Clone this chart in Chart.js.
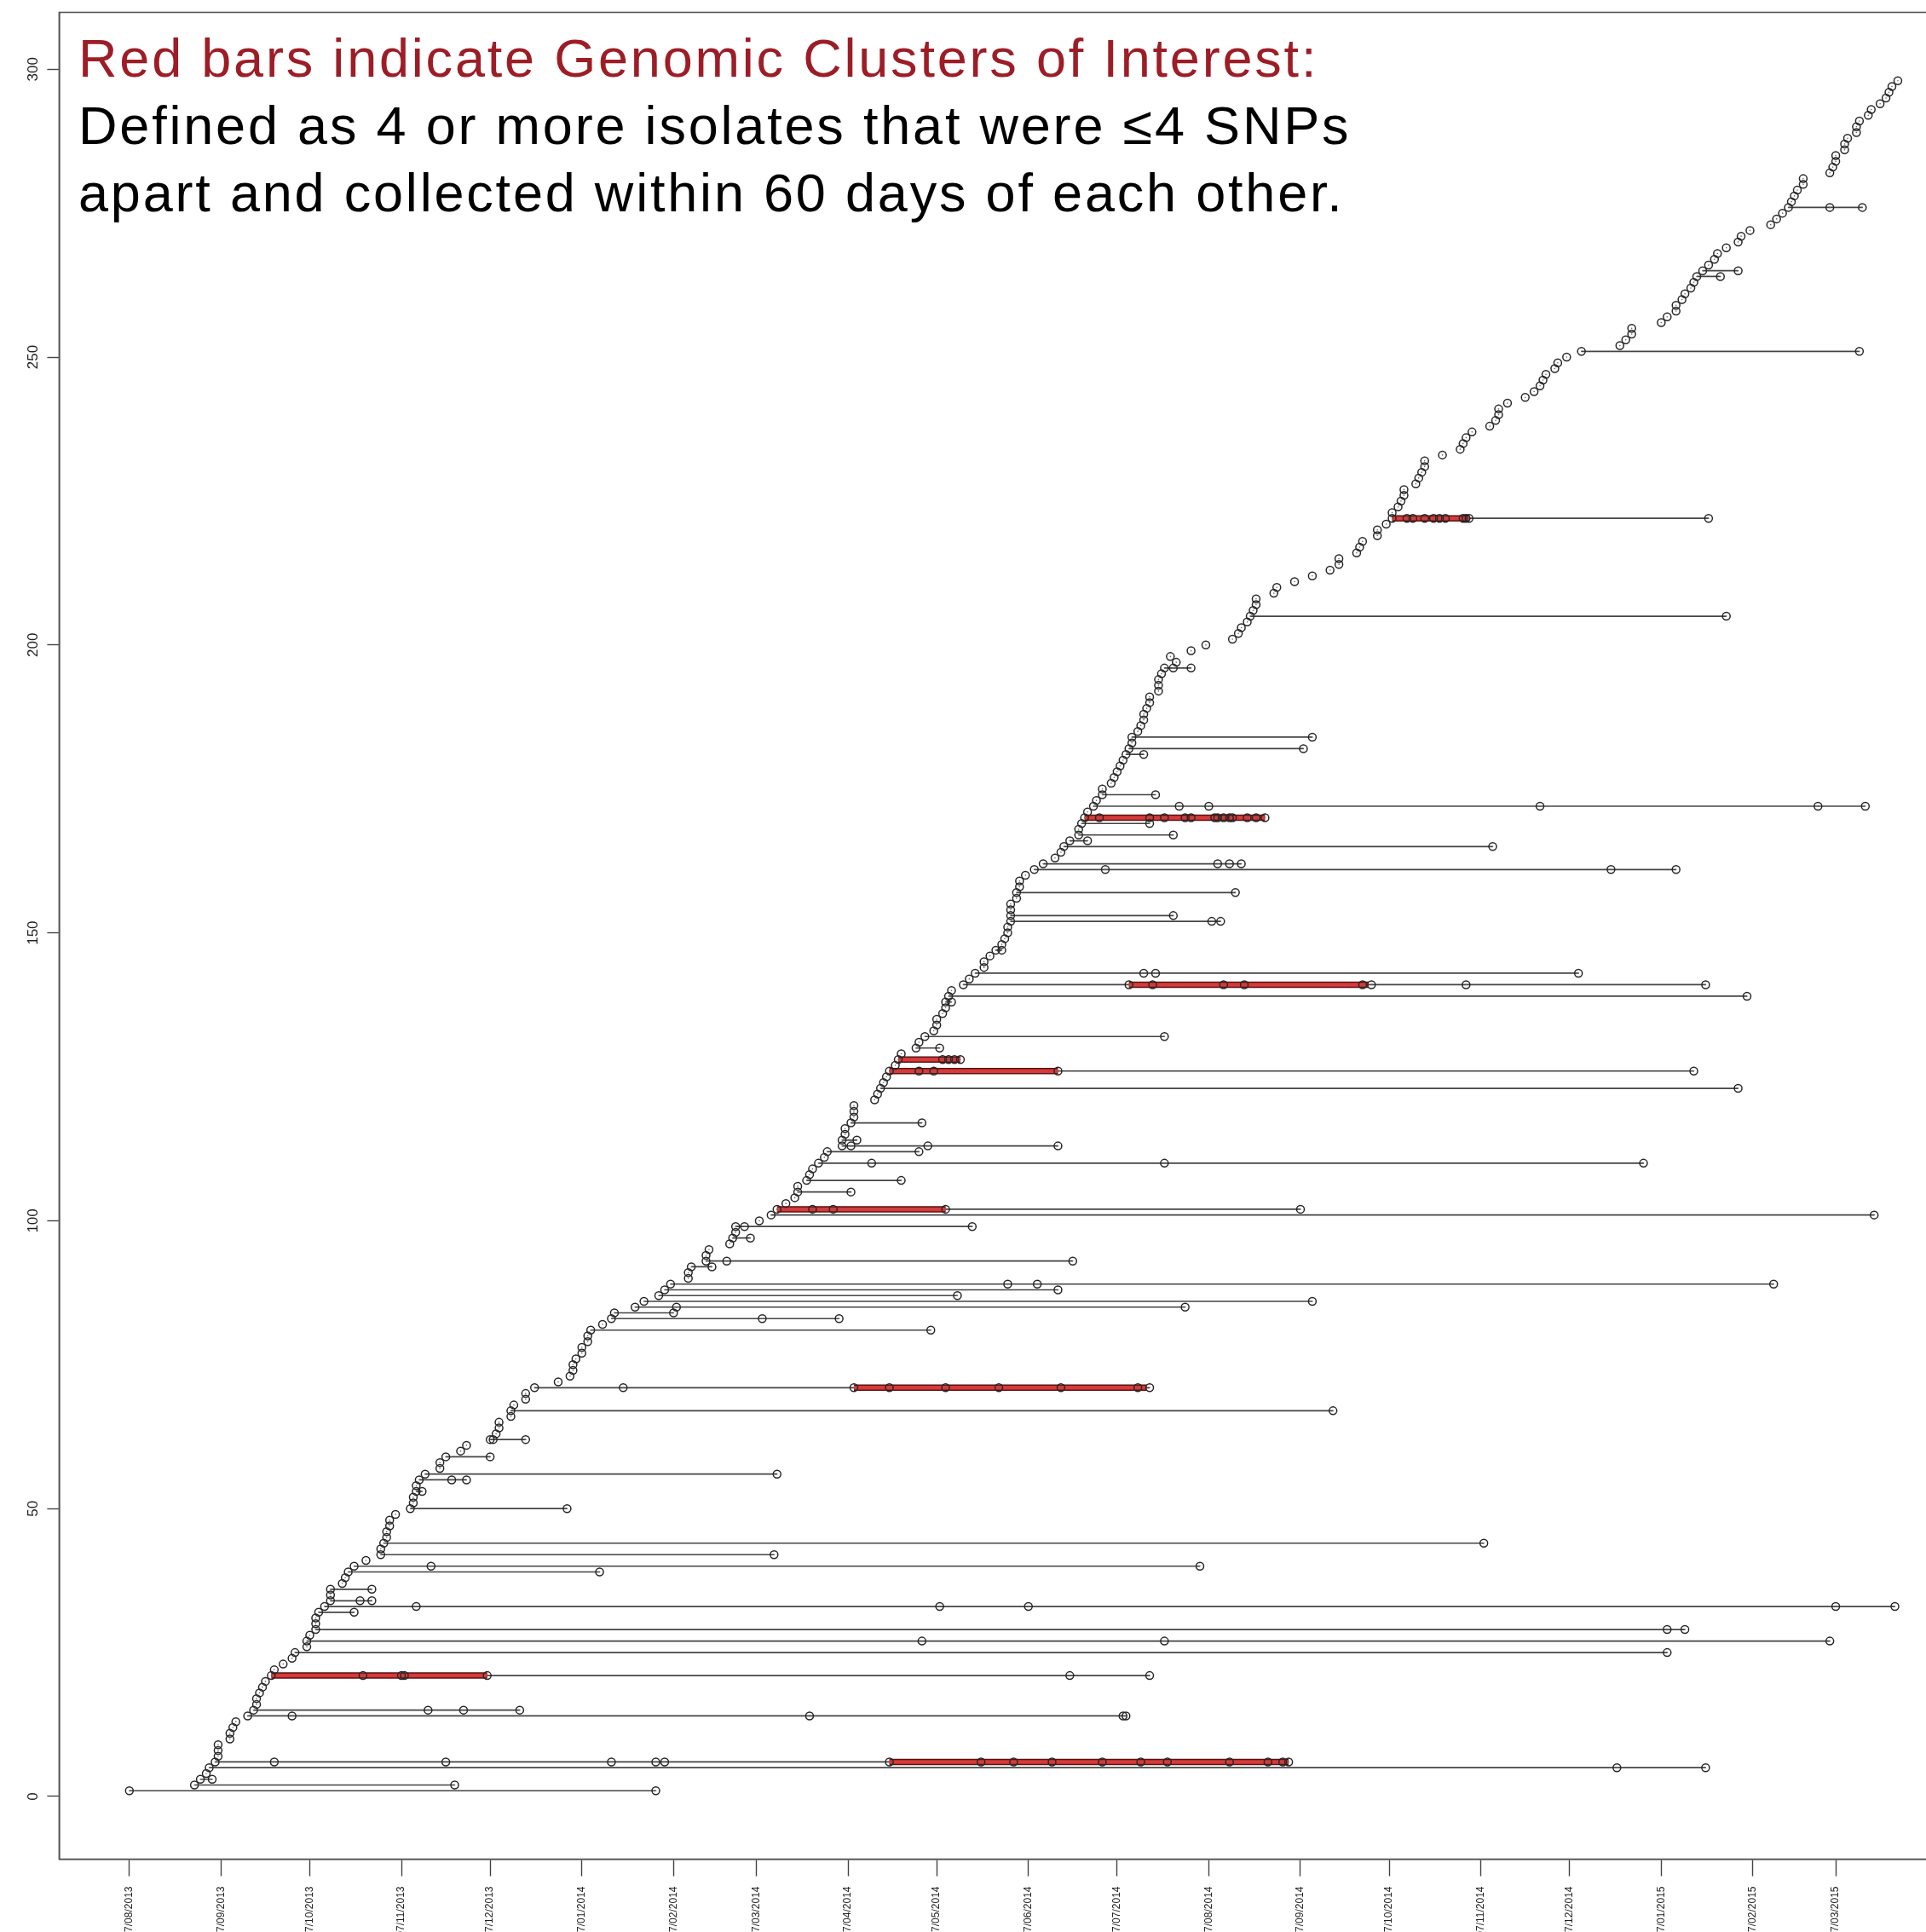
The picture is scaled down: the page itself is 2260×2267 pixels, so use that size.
<!DOCTYPE html>
<html>
<head>
<meta charset="utf-8">
<script src="https://cdn.jsdelivr.net/npm/chart.js@4.4.1/dist/chart.umd.min.js"></script>
<style>
  html, body { margin: 0; padding: 0; background: #fff; overflow: hidden; }
  #wrap { position: relative; width: 2310px; height: 2300px; }
  #note {
    position: absolute; left: 92px; top: 29px;
    font-family: "Liberation Sans", Arial, sans-serif;
    font-size: 63px; line-height: 79px; letter-spacing: 2.8px;
    color: #000; white-space: nowrap;
  }
  #note .red { color: #9d1d27; }
</style>
</head>
<body>
<div id="wrap">
  <canvas id="chart" width="2310" height="2300"></canvas>
  <div id="note">
    <div class="red">Red bars indicate Genomic Clusters of Interest:</div>
    <div>Defined as 4 or more isolates that were ≤4 SNPs</div>
    <div>apart and collected within 60 days of each other.</div>
  </div>
</div>
<script>
// x values are days after 07/08/2013, y values are row numbers 1..298

const tickDays = [0, 31, 61, 92, 122, 153, 184, 212, 243, 273, 304, 334, 365, 396, 426, 457, 487, 518, 549, 577];
const tickLabels = ['07/08/2013', '07/09/2013', '07/10/2013', '07/11/2013', '07/12/2013',
  '07/01/2014', '07/02/2014', '07/03/2014', '07/04/2014', '07/05/2014', '07/06/2014',
  '07/07/2014', '07/08/2014', '07/09/2014', '07/10/2014', '07/11/2014', '07/12/2014',
  '07/01/2015', '07/02/2015', '07/03/2015'];
const yTicks = [0, 50, 100, 150, 200, 250, 300];

// first isolate of each row (row 1 first)
const firstDay = [
  0, 22, 24, 26, 27, 29, 30, 30, 30, 34, 34, 35, 36, 40, 42, 43, 43, 44, 45, 46,
  48, 49, 52, 55, 56, 60, 60, 61, 63, 63, 63, 64, 66, 68, 68, 68, 72, 73, 74, 76,
  80, 85, 85, 86, 87, 87, 88, 88, 90, 95, 96, 96, 97, 97, 98, 100, 105, 105, 107, 112,
  114, 122, 124, 125, 125, 129, 129, 130, 134, 134, 137, 145, 149, 150, 150, 151, 153, 153, 155, 155,
  156, 160, 163, 164, 171, 174, 179, 181, 183, 189, 189, 190, 195, 195, 196, 203, 204, 205, 205, 213,
  217, 219, 222, 225, 226, 226, 229, 230, 231, 233, 235, 236, 241, 241, 242, 242, 244, 245, 245, 245,
  252, 253, 254, 255, 256, 257, 259, 260, 261, 266, 267, 269, 272, 273, 273, 275, 276, 276, 277, 278,
  282, 284, 286, 289, 289, 291, 293, 295, 296, 297, 297, 298, 298, 298, 298, 300, 300, 301, 301, 303,
  306, 309, 313, 315, 316, 318, 321, 321, 322, 323, 324, 326, 327, 329, 329, 332, 333, 334, 335, 336,
  337, 338, 339, 339, 341, 342, 343, 343, 344, 345, 345, 348, 348, 348, 349, 350, 354, 352, 359, 364,
  373, 375, 376, 378, 379, 380, 381, 381, 387, 388, 394, 400, 406, 409, 409, 415, 416, 417, 422, 422,
  425, 427, 427, 429, 430, 431, 431, 435, 436, 437, 438, 438, 444, 450, 451, 452, 454, 460, 462, 463,
  463, 466, 472, 475, 477, 478, 479, 482, 483, 486, 491, 504, 506, 508, 508, 518, 520, 523, 523, 525,
  526, 528, 529, 530, 532, 534, 536, 537, 540, 544, 545, 548, 555, 557, 559, 561, 562, 563, 564, 566,
  566, 575, 576, 577, 577, 580, 580, 581, 584, 584, 585, 588, 589, 592, 594, 595, 596, 598
];

// rows with later isolates, and the days of those isolates
const laterRows = [1, 2, 3, 5, 6, 14, 15, 21, 25, 27, 29, 32, 33, 34, 36, 39, 40, 42, 44, 50,
  53, 55, 56, 59, 62, 67, 71, 81, 83, 84, 85, 86, 87, 88, 89, 92, 93, 97, 99, 101,
  102, 105, 107, 110, 112, 113, 114, 117, 123, 126, 128, 130, 132, 138, 139, 141, 143, 147, 152, 153,
  157, 161, 162, 165, 166, 167, 169, 170, 172, 174, 181, 182, 184, 196, 205, 222, 251, 264, 265, 276];
const laterDays = [
  [178], [110], [28], [503, 533],
  [49, 107, 163, 178, 181, 257, 288, 299, 312, 329, 342, 351, 372, 385, 390, 392],
  [55, 230, 336, 337], [101, 113, 132], [79, 92, 93, 121, 318, 345], [520], [268, 350, 575],
  [520, 526], [76], [97, 274, 304, 577, 597], [78, 82], [82], [159], [102, 362], [218], [458], [148],
  [99], [109, 114], [219], [122], [123, 134], [407], [167, 245, 257, 276, 294, 315, 341, 345], [271], [214, 240], [184],
  [185, 357], [400], [280], [314], [297, 307, 556], [197], [202, 319], [210], [208, 285], [590],
  [231, 238, 276, 396], [244], [261], [251, 350, 512], [267], [244, 270, 314], [246], [268], [544], [267, 272, 314, 529],
  [275, 277, 279, 281], [274], [350], [278], [547], [338, 346, 370, 377, 417, 420, 452, 533], [343, 347, 490], [295], [366, 369], [353],
  [374], [330, 501, 523], [368, 372, 376], [461], [324], [353], [345],
  [328, 345, 350, 357, 359, 367, 368, 370, 372, 373, 378, 381, 384],
  [355, 365, 477, 571, 587], [347], [343], [397], [400], [353, 359], [540],
  [432, 434, 438, 441, 443, 445, 451, 452, 453, 534], [585], [538], [544], [575, 586]
];

// genomic clusters of interest (red bars)
const clusterRows = [6, 21, 71, 102, 126, 128, 141, 170, 222];
const clusterFrom = [257, 48, 245, 219, 257, 260, 338, 323, 427];
const clusterTo = [392, 121, 344, 276, 314, 281, 419, 384, 453];

//------------------------------------------------
const W = 2310, H = 2300;
const PLOT_LEFT = 69.4, PLOT_TOP = 14.5, PLOT_BOTTOM = 2181.5;
const FONT = '"Liberation Sans", Arial, sans-serif';

const datasets = [];

// all isolates as open circles
const points = firstDay.map((d, i) => ({ x: d, y: i + 1 }));
laterRows.forEach((r, k) => {
  laterDays[k].forEach(d => points.push({ x: d, y: r }));
});
datasets.push({
  data: points, order: 0, showLine: false,
  pointRadius: 4.5, pointBorderWidth: 1.5,
  pointBorderColor: '#262626', pointBackgroundColor: 'rgba(0,0,0,0)'
});
datasets.push({
  data: points, order: 0, showLine: false,
  pointRadius: 0.8, pointBorderWidth: 0, pointBackgroundColor: '#666'
});

// red cluster bars
clusterRows.forEach((r, k) => {
  const seg = [{ x: clusterFrom[k], y: r }, { x: clusterTo[k], y: r }];
  datasets.push({ data: seg, order: 1, showLine: true, pointRadius: 0,
    borderColor: '#d63a3a', borderWidth: 4.5, borderCapStyle: 'butt' });
  datasets.push({ data: seg, order: 2, showLine: true, pointRadius: 0,
    borderColor: '#5a1212', borderWidth: 7.5, borderCapStyle: 'butt' });
});

// grey lines joining isolates of the same row
laterRows.forEach((r, k) => {
  const xs = [firstDay[r - 1]].concat(laterDays[k]);
  datasets.push({
    data: [{ x: Math.min(...xs), y: r }, { x: Math.max(...xs), y: r }],
    order: 3, showLine: true, pointRadius: 0,
    borderColor: '#444', borderWidth: 1.7
  });
});

const framePlugin = {
  id: 'frame',
  afterDraw(chart) {
    const a = chart.chartArea, c = chart.ctx;
    c.save();
    c.strokeStyle = '#555';
    c.lineWidth = 1.6;
    c.strokeRect(a.left, a.top, a.right - a.left, a.bottom - a.top);
    c.restore();
  }
};

new Chart(document.getElementById('chart').getContext('2d'), {
  type: 'scatter',
  data: { datasets: datasets },
  plugins: [framePlugin],
  options: {
    responsive: false,
    animation: false,
    devicePixelRatio: 1,
    layout: { padding: { top: PLOT_TOP, left: 0, right: 0, bottom: 0 } },
    plugins: { legend: { display: false }, tooltip: { enabled: false } },
    scales: {
      x: {
        type: 'linear', min: -23.75, max: 620.2,
        afterBuildTicks: s => { s.ticks = tickDays.map(v => ({ value: v })); },
        afterFit: s => { s.height = H - PLOT_BOTTOM; s.paddingLeft = 0; s.paddingRight = 0; },
        ticks: {
          autoSkip: false, minRotation: 90, maxRotation: 90, padding: 12,
          color: '#222', font: { family: FONT, size: 12, lineHeight: 0.01 },
          callback: (v, i) => tickLabels[i]
        },
        grid: { drawOnChartArea: false, tickLength: 20, tickColor: '#444', tickWidth: 1.4 },
        border: { display: true, color: '#555', width: 1.6 }
      },
      y: {
        type: 'linear', min: -10.88, max: 309.88,
        afterBuildTicks: s => { s.ticks = yTicks.map(v => ({ value: v })); },
        afterFit: s => { s.width = PLOT_LEFT; s.paddingTop = 0; s.paddingBottom = 0; },
        ticks: {
          minRotation: 90, maxRotation: 90, crossAlign: 'center', padding: 2,
          color: '#222', font: { family: FONT, size: 17 }
        },
        grid: { drawOnChartArea: false, tickLength: 14, tickColor: '#444', tickWidth: 1.4 },
        border: { display: true, color: '#555', width: 1.6 }
      }
    }
  }
});
</script>
</body>
</html>
